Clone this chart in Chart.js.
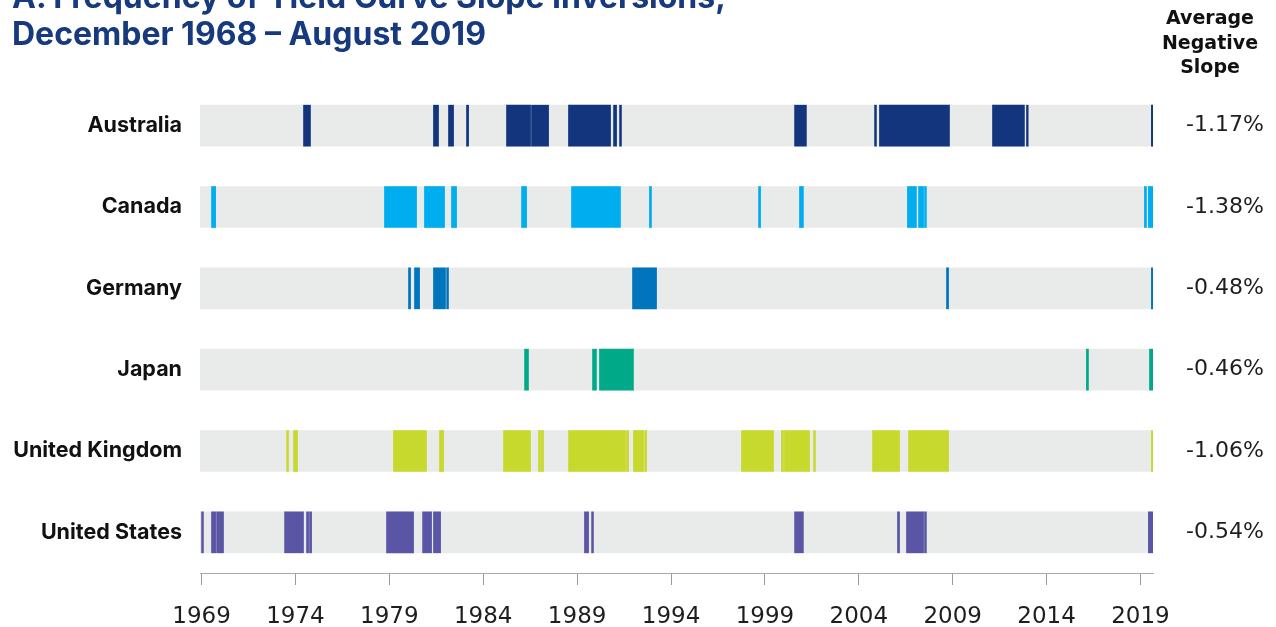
<!DOCTYPE html>
<html>
<head>
<meta charset="utf-8">
<script src="https://cdn.jsdelivr.net/npm/chart.js@4/dist/chart.umd.min.js"></script>
<style>
  html, body { margin: 0; padding: 0; background: #ffffff; }
  #wrap { position: relative; width: 1276px; height: 627px; overflow: hidden; background: #fff; }
  #c { position: absolute; left: 0; top: 0; }
  .title { position: absolute; left: 12px; top: -22px; font-family: Inter, "Noto Sans", sans-serif; font-weight: 700; font-size: 32px; line-height: 37px; color: #173a7e; white-space: nowrap; }
  .head { position: absolute; left: 1150px; width: 120px; top: 5px; text-align: center; font-family: "DejaVu Sans", sans-serif; font-weight: 700; font-size: 19px; line-height: 24.5px; color: #111; }
</style>
</head>
<body>
<div id="wrap">
  <canvas id="c" width="1276" height="627"></canvas>
  <div class="title">A. Frequency of Yield Curve Slope Inversions,<br>December 1968 – August 2019</div>
  <div class="head">Average<br>Negative<br>Slope</div>
</div>
<script>
// ---- data (decimal years) ----
const countries = ["Australia", "Canada", "Germany", "Japan", "United Kingdom", "United States"];
const slopes = ["-1.17%", "-1.38%", "-0.48%", "-0.46%", "-1.06%", "-0.54%"];
const colors = ["#12357e", "#00aeef", "#0075be", "#00aa88", "#c8d92e", "#5a55a5"];
const periodStart = 1968.917; // Dec 1968
const periodEnd = 2019.667;   // end of Aug 2019
const tickYears = [1969, 1974, 1979, 1984, 1989, 1994, 1999, 2004, 2009, 2014, 2019];

const australia = [[1974.43,1974.80],[1981.35,1981.62],[1982.15,1982.42],[1983.11,1983.22],[1985.24,1986.52],[1986.57,1987.48],[1988.54,1990.78],[1990.94,1991.10],[1991.26,1991.36],[2000.58,2001.21],[2004.84,2004.94],[2005.10,2008.83],[2011.12,2012.82],[2012.93,2013.02],[2019.58,2019.67]];
const canada = [[1969.53,1969.75],[1978.74,1980.45],[1980.87,1981.94],[1982.31,1982.58],[1986.04,1986.31],[1988.70,1991.31],[1992.85,1992.96],[1998.66,1998.77],[2000.84,2001.05],[2006.59,2007.07],[2007.18,2007.45],[2007.50,2007.60],[2019.21,2019.32],[2019.42,2019.67]];
const germany = [[1980.02,1980.13],[1980.34,1980.61],[1981.35,1981.99],[1982.05,1982.15],[1991.95,1993.23],[2008.67,2008.78],[2019.58,2019.67]];
const japan = [[1986.20,1986.41],[1989.82,1990.03],[1990.19,1992.00],[2016.12,2016.23],[2019.48,2019.67]];
const unitedKingdom = [[1973.53,1973.63],[1973.90,1974.11],[1979.22,1980.98],[1981.67,1981.89],[1985.08,1986.52],[1986.94,1987.05],[1987.10,1987.21],[1988.54,1991.58],[1991.63,1991.74],[1992.00,1992.54],[1992.60,1992.70],[1997.75,1999.46],[1999.88,1999.99],[2000.04,2001.38],[2001.59,2001.69],[2004.73,2006.17],[2006.65,2008.78],[2019.58,2019.67]];
const unitedStates = [[1969.00,1969.10],[1969.53,1969.75],[1969.80,1970.17],[1973.42,1974.43],[1974.59,1974.70],[1974.75,1974.86],[1978.85,1980.29],[1980.77,1981.25],[1981.35,1981.73],[1989.39,1989.61],[1989.77,1989.87],[2000.58,2001.05],[2006.06,2006.17],[2006.54,2007.45],[2007.50,2007.60],[2019.42,2019.67]];

const segmentsByCountry = [australia, canada, germany, japan, unitedKingdom, unitedStates];

// ---- build datasets ----
const maxSegs = Math.max(...segmentsByCountry.map(s => s.length));
const datasets = [];
for (let k = 0; k < maxSegs; k++) {
  datasets.push({
    data: segmentsByCountry.map(s => s[k] || null),
    backgroundColor: colors,
    borderWidth: 0,
    grouped: false,
    barThickness: 41,
    order: 0
  });
}
datasets.push({
  data: countries.map(() => [periodStart, periodEnd]),
  backgroundColor: "#e9eaea",
  borderWidth: 0,
  grouped: false,
  barThickness: 41,
  order: 1
});

new Chart(document.getElementById("c"), {
  type: "bar",
  data: { labels: countries, datasets },
  options: {
    indexAxis: "y",
    responsive: false,
    devicePixelRatio: 1,
    animation: false,
    layout: { padding: { top: 85, left: 0, right: 0, bottom: 0 } },
    plugins: { legend: { display: false }, tooltip: { enabled: false }, title: { display: false } },
    scales: {
      x: {
        type: "linear",
        min: periodStart,
        max: periodEnd,
        afterBuildTicks: s => { s.ticks = tickYears.map(v => ({ value: v })); },
        afterFit: s => { s.height = 54; },
        grid: { display: true, drawOnChartArea: false, drawTicks: true, tickLength: 12, color: "#9a9a9a" },
        border: { display: true, color: "#aaaaaa" },
        ticks: { padding: 18, color: "#1e1e1e", font: { family: "DejaVu Sans", size: 23, weight: "400" }, callback: v => String(v), maxRotation: 0, autoSkip: false }
      },
      y: {
        type: "category",
        position: "left",
        afterFit: s => { s.width = 200; },
        grid: { display: false },
        border: { display: false },
        ticks: { padding: 10, color: "#111", font: { family: "Inter", size: 21.5, weight: "700" } }
      },
      y2: {
        type: "category",
        position: "right",
        labels: slopes,
        offset: true,
        afterFit: s => { s.width = 123; },
        grid: { display: false },
        border: { display: false },
        ticks: { padding: 25, color: "#1e1e1e", font: { family: "DejaVu Sans", size: 22, weight: "400" } }
      }
    }
  }
});
</script>
</body>
</html>
